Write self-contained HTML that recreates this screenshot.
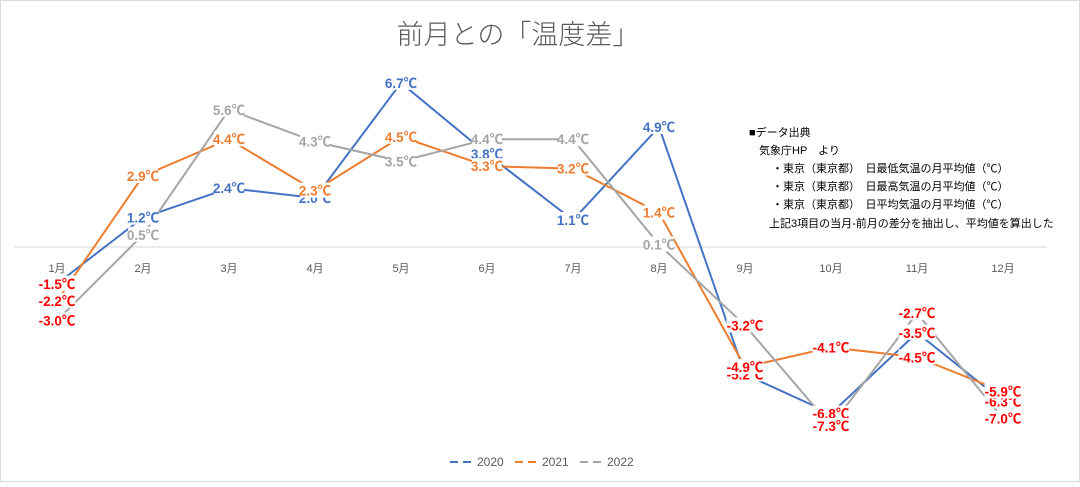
<!DOCTYPE html>
<html><head><meta charset="utf-8">
<style>
body{margin:0;background:#fff;}
svg text{font-family:"Liberation Sans","Noto Sans CJK JP",sans-serif;}
</style></head>
<body>
<svg id="chart" width="1080" height="482" xmlns="http://www.w3.org/2000/svg">
<rect x="0.5" y="0.5" width="1079" height="481" fill="#fff" stroke="#d9d9d9"/>
<text x="518" y="44" text-anchor="middle" font-size="27" fill="#595959" style="font-family:'Noto Sans CJK JP',sans-serif;font-weight:300">前月との「温度差」</text>
<line x1="14" y1="247" x2="1047" y2="247" stroke="#d9d9d9" stroke-width="1"/>
<g id="xlabels"></g>
<g id="lines"></g>
<g id="labels"></g>
<g font-size="11" fill="#000" style="font-family:'Noto Sans CJK JP',sans-serif">
<text x="749" y="136">■データ出典</text>
<text x="759" y="154">気象庁HP　より</text>
<text x="772" y="172">・東京（東京都）　日最低気温の月平均値（℃）</text>
<text x="772" y="190">・東京（東京都）　日最高気温の月平均値（℃）</text>
<text x="772" y="208">・東京（東京都）　日平均気温の月平均値（℃）</text>
<text x="769" y="227">上記3項目の当月-前月の差分を抽出し、平均値を算出した</text>
</g>
<g id="legend"></g>
</svg>
<script>
const months = ["1月","2月","3月","4月","5月","6月","7月","8月","9月","10月","11月","12月"];
const seriesNames = ["2020","2021","2022"];
const s2020 = [-1.5,1.2,2.4,2.0,6.7,3.8,1.1,4.9,-5.2,-6.8,-3.5,-6.3];
const s2021 = [-2.2,2.9,4.4,2.3,4.5,3.3,3.2,1.4,-4.9,-4.1,-4.5,-5.9];
const s2022 = [-3.0,0.5,5.6,4.3,3.5,4.4,4.4,0.1,-3.2,-7.3,-2.7,-7.0];
const colors = ["#4472C4","#ED7D31","#A5A5A5"];
const NS="http://www.w3.org/2000/svg";
const x = i => 57 + i*(1003-57)/11;
const y = v => 247 - v*24.5;
function mk(tag, attrs){const e=document.createElementNS(NS,tag);for(const k in attrs)e.setAttribute(k,attrs[k]);return e;}
const xl=document.getElementById('xlabels');
months.forEach((m,i)=>{const t=mk('text',{x:x(i),y:272,'text-anchor':'middle','font-size':11,fill:'#595959'});


t.style.fontFamily="'Liberation Sans','Noto Sans CJK JP',sans-serif";t.textContent=m;xl.appendChild(t);});
const all=[s2020,s2021,s2022];
const lg=document.getElementById('lines'), lb=document.getElementById('labels');
all.forEach((s,k)=>{
  const p=mk('polyline',{points:s.map((v,i)=>x(i)+','+y(v)).join(' '),fill:'none',stroke:colors[k],'stroke-width':2});
  
  
  lg.appendChild(p);
});
all.forEach((s,k)=>{
  s.forEach((v,i)=>{
    const txt=v.toFixed(1)+'℃';
    const w=txt.length*7.4;
    const g=mk('g',{});
    
    
    g.appendChild(mk('rect',{x:x(i)-w/2,y:y(v)-8,width:w,height:15,fill:'#fff'}));
    const t=mk('text',{x:x(i),y:y(v)+5,'text-anchor':'middle','font-size':13.5,'font-weight':'bold',fill:v<0?'#FF0000':colors[k]});
    t.textContent=txt;g.appendChild(t);lb.appendChild(g);
  });
});
const lgd=document.getElementById('legend');
const lx=[450,515,580];
seriesNames.forEach((n,k)=>{
  const g=mk('g',{});
  
  
  g.appendChild(mk('line',{x1:lx[k],y1:462,x2:lx[k]+26,y2:462,stroke:colors[k],'stroke-width':2,'stroke-dasharray':'8,5'}));
  const t=mk('text',{x:lx[k]+27,y:466,'font-size':12,fill:'#595959'});t.textContent=n;g.appendChild(t);
  lgd.appendChild(g);
});
</script>
</body></html>
